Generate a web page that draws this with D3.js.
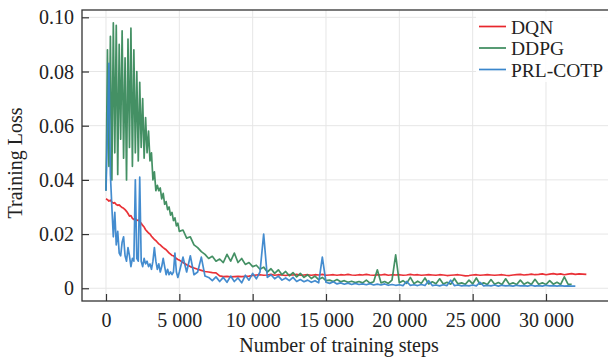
<!DOCTYPE html>
<html><head><meta charset="utf-8">
<script src="https://cdn.jsdelivr.net/npm/d3@7"></script>
<style>
body{margin:0;background:#fff;}
svg{display:block;font-family:"Liberation Serif","Times New Roman",serif;}
</style>
</head><body>
<svg id="chart" width="608" height="357"></svg>
<script>
// ---- data ----
const seriesNames = ["DQN", "DDPG", "PRL-COTP"];
const seriesColors = ["#e8262c", "#3a8a5c", "#3a86cc"];
const xTickValues = [0, 5000, 10000, 15000, 20000, 25000, 30000];
const yTickValues = [0, 0.02, 0.04, 0.06, 0.08, 0.10];

// sampling grid: every 100 steps from 0 to 5000, then every 250 steps from 5250
const earlyInterval = 100;
const lateStart = 5250;
const lateInterval = 250;

const dqnEarly = [0.0330,0.0327,0.0322,0.0325,0.0318,0.0314,0.0316,0.0309,0.0306,0.0308,
  0.0302,0.0298,0.0295,0.0290,0.0284,0.0276,0.0266,0.0268,0.0258,0.0254,
  0.0257,0.0250,0.0252,0.0246,0.0240,0.0232,0.0226,0.0216,0.0210,0.0204,
  0.0200,0.0192,0.0186,0.0180,0.0176,0.0170,0.0164,0.0160,0.0155,0.0150,
  0.0146,0.0142,0.0136,0.0130,0.0126,0.0121,0.0120,0.0114,0.0110,0.0106,0.0104];
const dqnLate = [0.0095,0.0087,0.0080,0.0075,0.0070,0.0066,0.0062,0.0060,0.0058,0.0057,
  0.0046,0.0043,0.0044,0.0042,0.0043,0.0044,0.0043,0.0044,0.0045,0.0047,0.0049,
  0.0050,0.0048,0.0049,0.0051,0.0048,0.0050,0.0049,0.0047,0.0050,0.0049,
  0.0051,0.0048,0.0049,0.0050,0.0048,0.0050,0.0049,0.0051,0.0048,0.0049,
  0.0050,0.0048,0.0050,0.0049,0.0051,0.0049,0.0048,0.0050,0.0049,0.0051,
  0.0049,0.0048,0.0050,0.0049,0.0051,0.0048,0.0050,0.0049,0.0050,0.0048,
  0.0049,0.0051,0.0049,0.0050,0.0048,0.0049,0.0050,0.0049,0.0048,0.0050,
  0.0049,0.0047,0.0048,0.0049,0.0050,0.0048,0.0046,0.0047,0.0049,0.0050,
  0.0048,0.0049,0.0050,0.0049,0.0048,0.0049,0.0050,0.0048,0.0047,0.0049,
  0.0050,0.0051,0.0049,0.0050,0.0052,0.0050,0.0051,0.0053,0.0050,0.0052,
  0.0054,0.0051,0.0053,0.0050,0.0052,0.0054,0.0051,0.0053,0.0052,0.0051];

const ddpgEarly = [0.036,0.088,0.045,0.093,0.040,0.098,0.050,0.097,0.042,0.090,
  0.055,0.095,0.048,0.085,0.040,0.092,0.052,0.096,0.045,0.088,
  0.050,0.080,0.047,0.076,0.052,0.070,0.048,0.063,0.050,0.058,
  0.047,0.050,0.040,0.043,0.036,0.038,0.036,0.037,0.033,0.035,
  0.031,0.032,0.029,0.030,0.027,0.028,0.025,0.026,0.023,0.024,0.021];
const ddpgLate = [0.0215,0.0185,0.0190,0.0160,0.0150,0.0135,0.0125,0.0110,0.0118,0.0100,
  0.0108,0.0095,0.0125,0.0100,0.0130,0.0095,0.0110,0.0088,0.0095,0.0080,
  0.0085,0.0070,0.0078,0.0060,0.0072,0.0055,0.0068,0.0050,0.0062,0.0046,
  0.0058,0.0042,0.0055,0.0040,0.0050,0.0036,0.0045,0.0032,0.0040,0.0028,
  0.0030,0.0025,0.0032,0.0024,0.0028,0.0022,0.0026,0.0021,0.0025,0.0020,
  0.0030,0.0019,0.0024,0.0068,0.0020,0.0025,0.0018,0.0030,0.0123,0.0020,
  0.0028,0.0018,0.0040,0.0017,0.0026,0.0018,0.0038,0.0016,0.0024,0.0017,
  0.0035,0.0016,0.0022,0.0015,0.0036,0.0016,0.0020,0.0015,0.0030,0.0016,
  0.0038,0.0015,0.0020,0.0014,0.0032,0.0015,0.0021,0.0014,0.0035,0.0015,
  0.0020,0.0014,0.0030,0.0015,0.0022,0.0014,0.0033,0.0015,0.0020,0.0014,
  0.0028,0.0015,0.0022,0.0014,0.0042,0.0015,0.0014];

const prlEarly = [0.036,0.058,0.083,0.042,0.030,0.019,0.028,0.016,0.021,0.013,
  0.012,0.017,0.019,0.012,0.010,0.015,0.012,0.008,0.011,0.010,
  0.040,0.011,0.010,0.041,0.010,0.008,0.011,0.009,0.010,0.008,
  0.009,0.007,0.010,0.015,0.010,0.007,0.009,0.006,0.008,0.011,
  0.008,0.005,0.007,0.005,0.006,0.005,0.006,0.013,0.006,0.004,0.006];
const prlLate = [0.0115,0.0060,0.0120,0.0050,0.0060,0.0115,0.0045,0.0040,0.0028,0.0042,
  0.0025,0.0040,0.0022,0.0045,0.0025,0.0038,0.0020,0.0048,0.0030,0.0055,
  0.0035,0.0060,0.0200,0.0040,0.0050,0.0035,0.0045,0.0030,0.0038,0.0028,
  0.0040,0.0025,0.0032,0.0024,0.0030,0.0022,0.0028,0.0020,0.0115,0.0022,
  0.0018,0.0024,0.0016,0.0020,0.0015,0.0019,0.0014,0.0018,0.0014,0.0016,
  0.0013,0.0017,0.0012,0.0015,0.0012,0.0016,0.0011,0.0014,0.0011,0.0013,
  0.0010,0.0025,0.0011,0.0013,0.0010,0.0014,0.0010,0.0028,0.0010,0.0012,
  0.0009,0.0013,0.0010,0.0030,0.0010,0.0012,0.0009,0.0011,0.0009,0.0012,
  0.0009,0.0022,0.0009,0.0011,0.0009,0.0012,0.0008,0.0011,0.0009,0.0010,
  0.0008,0.0011,0.0009,0.0010,0.0008,0.0011,0.0008,0.0010,0.0008,0.0011,
  0.0009,0.0010,0.0008,0.0010,0.0008,0.0009,0.0008,0.0008];

// ---- chart ----
const svg = d3.select("#chart");
const pLeft = 82, pTop = 10, pRight = 612, pBottom = 301;
const x = d3.scaleLinear().domain([-1636, 34500]).range([pLeft, pRight]);
const y = d3.scaleLinear().domain([-0.0047, 0.1027]).range([pBottom, pTop]);

function toPoints(early, late) {
  return early.map((v, i) => [i * earlyInterval, v])
    .concat(late.map((v, i) => [lateStart + i * lateInterval, v]));
}
const series = [
  toPoints(dqnEarly, dqnLate),
  toPoints(ddpgEarly, ddpgLate),
  toPoints(prlEarly, prlLate)
];

svg.append("defs").append("clipPath").attr("id", "plotclip")
  .append("rect").attr("x", pLeft).attr("y", pTop).attr("width", pRight - pLeft).attr("height", pBottom - pTop);

// grid
const grid = svg.append("g").attr("stroke", "#e6e6e6").attr("stroke-width", 1);
grid.selectAll(".gx").data(xTickValues).join("line").attr("class", "gx")
  .attr("x1", d => x(d)).attr("x2", d => x(d)).attr("y1", pTop).attr("y2", pBottom);
grid.selectAll(".gy").data(yTickValues).join("line").attr("class", "gy")
  .attr("x1", pLeft).attr("x2", pRight).attr("y1", d => y(d)).attr("y2", d => y(d));

// lines
const line = d3.line().x(d => x(d[0])).y(d => y(d[1]));
const lines = svg.append("g").attr("clip-path", "url(#plotclip)");
series.forEach((s, i) => {
  lines.append("path").datum(s).attr("d", line)
    .attr("fill", "none").attr("stroke", seriesColors[i])
    .attr("stroke-width", 1.7).attr("stroke-linejoin", "round").attr("opacity", 0.95);
});

// axes
const fmtX = d => d === 0 ? "0" : d3.format(",")(d).replace(/,/g, " ");
const xAxis = d3.axisBottom(x).tickValues(xTickValues).tickSize(-7).tickPadding(12).tickFormat(fmtX);
const yAxis = d3.axisLeft(y).tickValues(yTickValues).tickSize(-7).tickPadding(8)
  .tickFormat(d => d === 0 ? "0" : d3.format(".2f")(d));

const gx = svg.append("g").attr("transform", `translate(0,${pBottom})`).call(xAxis);
const gy = svg.append("g").attr("transform", `translate(${pLeft},0)`).call(yAxis);
[gx, gy].forEach(g => {
  g.select(".domain").remove();
  g.selectAll(".tick line").attr("stroke", "#333").attr("stroke-width", 1.2);
  g.selectAll(".tick text").attr("fill", "#222").style("font-size", "20px")
    .style("font-family", '"Liberation Serif","Times New Roman",serif')
    .style("white-space", "pre");
});
gx.selectAll(".tick text").attr("dy", "0.72em");
gy.selectAll(".tick text").attr("dy", "0.33em");

// frame
svg.append("rect").attr("x", pLeft).attr("y", pTop).attr("width", pRight - pLeft).attr("height", pBottom - pTop)
  .attr("fill", "none").attr("stroke", "#333").attr("stroke-width", 1.3);

// axis titles
svg.append("text").attr("x", 339).attr("y", 352).attr("text-anchor", "middle")
  .style("font-size", "20px").attr("fill", "#222").text("Number of training steps");
svg.append("text").attr("transform", "translate(22,163) rotate(-90)").attr("text-anchor", "middle")
  .style("font-size", "20px").attr("fill", "#222").text("Training Loss");

// legend
const lg = svg.append("g");
lg.append("rect").attr("x", 476).attr("y", 12).attr("width", 140).attr("height", 70)
  .attr("fill", "#fff").attr("opacity", 0.85);
seriesNames.forEach((name, i) => {
  const yy = 26.5 + i * 21.5;
  lg.append("line").attr("x1", 479).attr("x2", 506).attr("y1", yy).attr("y2", yy)
    .attr("stroke", seriesColors[i]).attr("stroke-width", 1.7);
  lg.append("text").attr("x", 511).attr("y", yy + 7).style("font-size", "19.5px")
    .attr("fill", "#222").text(name);
});
</script>
</body></html>
